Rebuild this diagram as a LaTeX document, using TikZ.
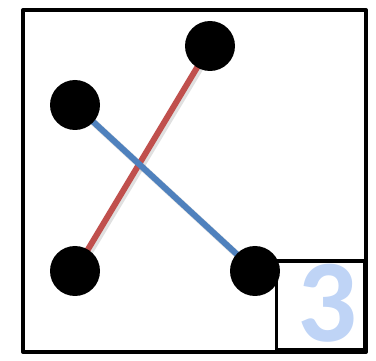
\documentclass[tikz,border=0pt]{standalone}
\usepackage{fontspec}
\setmainfont{Carlito}
\begin{document}
\begin{tikzpicture}[x=1pt,y=-1pt,
  dot/.style={circle,fill=black,minimum size=50pt,inner sep=0pt},
  redline/.style={draw={rgb,255:red,192;green,80;blue,77},line width=6pt},
  blueline/.style={draw={rgb,255:red,79;green,129;blue,189},line width=6pt},
  shadowline/.style={draw=black,opacity=0.12,line width=7pt},
  frame/.style={draw=black,line width=4pt,line join=round}]
\useasboundingbox (0,0) rectangle (376,361);
\coordinate (a) at (210,46);
\coordinate (b) at (75,105);
\coordinate (c) at (75,271);
\coordinate (d) at (255,271);
\draw[shadowline,transform canvas={shift={(2pt,-2pt)}}] (a) -- (c);
\draw[shadowline,transform canvas={shift={(2pt,-2pt)}}] (b) -- (d);
\draw[redline] (a) -- (c);
\draw[blueline] (b) -- (d);
\node[dot] (na) at (a) {};
\node[dot] (nb) at (b) {};
\node[dot] (nc) at (c) {};
\node[dot] (nd) at (d) {};
\draw[frame] (23,10) rectangle (366,352);
\node[draw=black,line width=3.5pt,minimum width=88pt,minimum height=89pt,inner sep=0pt,anchor=south east] (box) at (366,352) {};
\node[text={rgb,255:red,191;green,212;blue,246},font=\bfseries\fontsize{118}{118}\selectfont,inner sep=0pt] (num) at (327,303) {3};
\end{tikzpicture}
\end{document}
